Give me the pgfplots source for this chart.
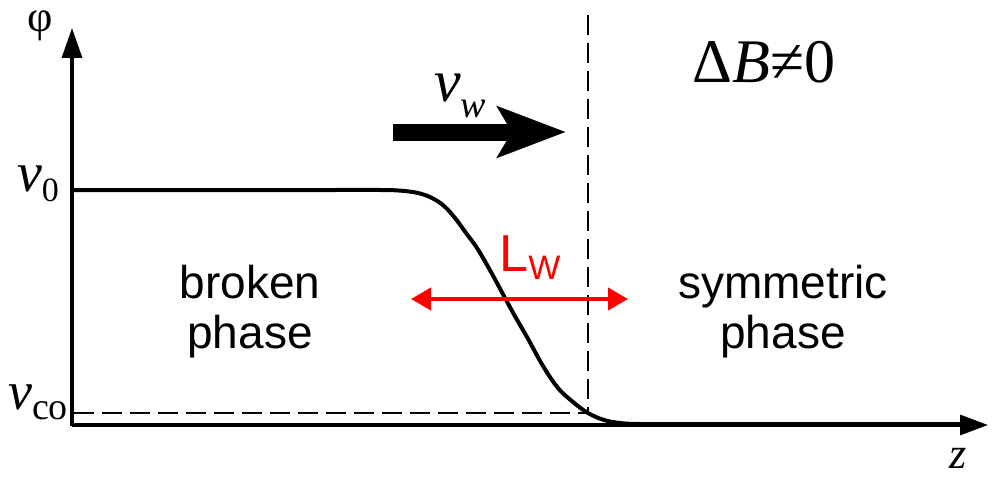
\documentclass[border=0pt]{standalone}
\usepackage{pgfplots}
\pgfplotsset{compat=1.18}
\usepackage{fontspec}
\setmainfont{Liberation Serif}
\newfontfamily\sansf{Liberation Sans}
\usetikzlibrary{arrows.meta}
\definecolor{lwred}{RGB}{255,0,0}
\begin{document}
\begin{tikzpicture}
\begin{axis}[
  scale only axis, width=497pt, height=238pt,
  xmin=0, xmax=994, ymin=0, ymax=476, y dir=reverse,
  hide axis, clip=false]
\path (axis cs:0,0) rectangle (axis cs:994,476);
% axes
\draw[line width=1.6pt, -{Triangle[length=15pt,width=10pt]}] (axis cs:72,426) -- (axis cs:72,28);
\draw[line width=1.6pt, -{Triangle[length=14pt,width=10pt]}] (axis cs:72,425) -- (axis cs:988,425);
% dashed lines
\addplot[black, line width=1.1pt, dash pattern=on 10pt off 4pt] coordinates {(588,15) (588,414)};
\addplot[black, line width=1.1pt, dash pattern=on 10pt off 4pt] coordinates {(74,413) (586,413)};
% profile
\addplot[black, line width=2pt, smooth, tension=0.6] coordinates {
(72,190) (200,190) (330,190) (380,190) (400,190.6) (418,193) (432,198) (444,206)
(455,218) (466,233) (477,248) (491,272) (505,298) (516,318) (527,337) (543,366)
(558,388) (573,402) (588,413) (604,420) (620,423) (640,424) (700,424) (800,424) (970,424)};
% v_w arrow
\draw[line width=8.5pt, -{Stealth[length=34pt,width=25pt,inset=7pt]}] (axis cs:393,132) -- (axis cs:566,132);
\node at (axis cs:460,96) {\fontsize{30}{30}\selectfont\itshape v\raisebox{-8pt}{\fontsize{19}{19}\selectfont w}};
% L_W arrow
\draw[lwred, line width=2pt, {Triangle[length=10pt,width=11pt]}-{Triangle[length=10pt,width=11pt]}] (axis cs:411,299) -- (axis cs:628,299);
\node[lwred] at (axis cs:530,258) {\sansf\fontsize{26}{26}\selectfont L\raisebox{-4pt}{\fontsize{17}{17}\selectfont W}};
% labels
\node at (axis cs:38,184) {\fontsize{28}{28}\selectfont\itshape v\upshape\raisebox{-5pt}{\fontsize{17}{17}\selectfont 0}};
\node at (axis cs:38,402) {\fontsize{27}{27}\selectfont\itshape v\upshape\raisebox{-5pt}{\fontsize{19}{19}\selectfont co}};
\node at (axis cs:40,26) {\fontsize{22}{22}\selectfont φ};
\node at (axis cs:958,458) {\fontsize{22}{22}\selectfont\itshape z};
\node at (axis cs:764,62) {\fontsize{31}{31}\selectfont Δ\textit{B}≠0};
\node[align=center, font={\sansf\fontsize{23}{25}\selectfont}] at (axis cs:250,312) {broken\\phase};
\node[align=center, font={\sansf\fontsize{23}{25}\selectfont}] at (axis cs:783,312) {symmetric\\phase};
\end{axis}
\end{tikzpicture}
\end{document}
